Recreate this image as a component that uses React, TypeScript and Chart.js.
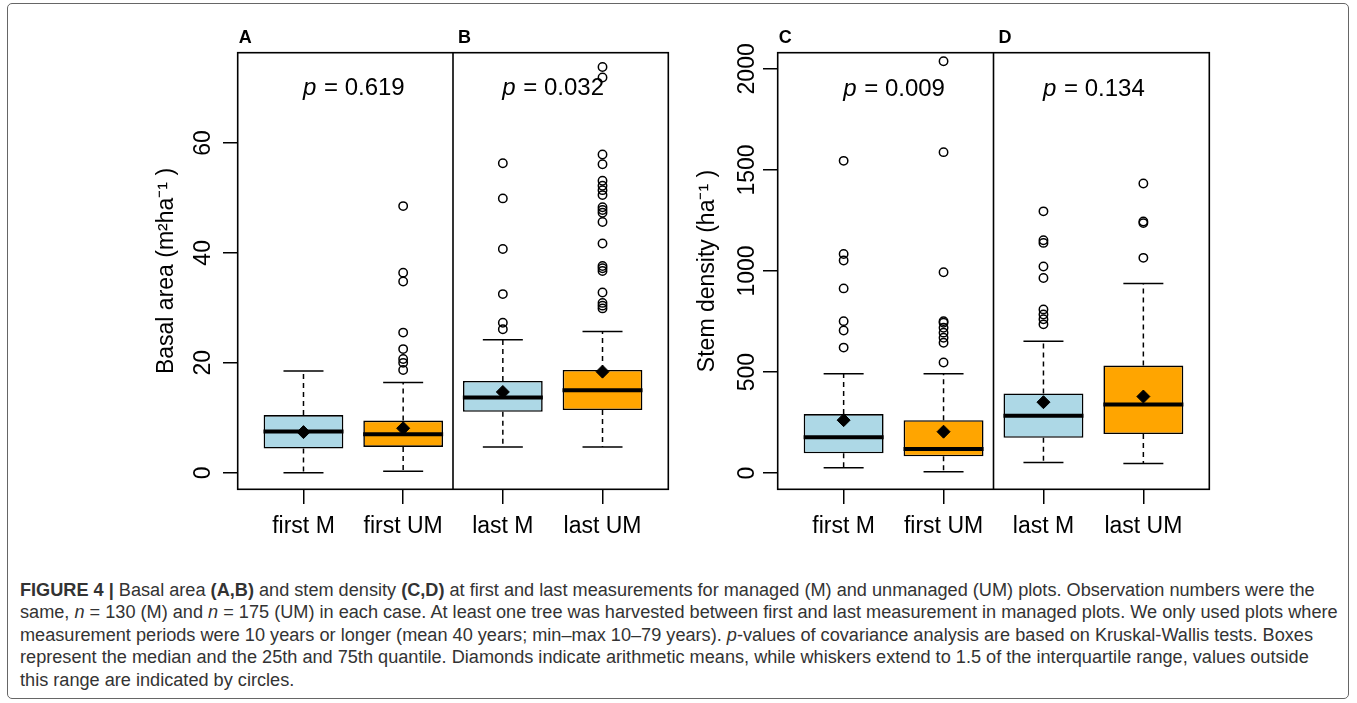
import React, { useEffect, useRef } from "react";
import { Chart, registerables } from "chart.js";

Chart.register(...registerables);

// ---------- data ----------
const categories = ["first M", "first UM", "last M", "last UM"];
const positions = [1, 2, 3, 4];

// Basal area (m² ha⁻¹), panels A/B
const baLowerWhisker = [0, 0.3, 4.7, 4.7];
const baQ1 = [4.4, 4.7, 11.1, 11.4];
const baMedian = [7.5, 7.0, 13.7, 15.0];
const baQ3 = [10.5, 9.5, 16.7, 18.7];
const baUpperWhisker = [18.5, 16.4, 24.2, 25.7];
const baMean = [7.4, 8.1, 14.7, 18.4];
const baOutliersFirstM: number[] = [];
const baOutliersFirstUM = [48.5, 36.4, 34.8, 25.5, 22.5, 20.7, 20.0, 18.7];
const baOutliersLastM = [56.3, 49.9, 40.7, 32.5, 27.3, 26.1];
const baOutliersLastUM = [73.8, 71.9, 57.9, 56.1, 53.1, 52.2, 51.4, 50.5, 48.3, 47.8, 47.3, 45.6, 41.7, 37.6, 37.2, 36.7, 32.8, 30.9, 30.4, 29.9];
const baTicks = [0, 20, 40, 60];
const baPValues = ["0.619", "0.032"];

// Stem density (ha⁻¹), panels C/D
const sdLowerWhisker = [27, 7, 53, 48];
const sdQ1 = [98, 83, 175, 193];
const sdMedian = [177, 119, 284, 339];
const sdQ3 = [292, 262, 394, 532];
const sdUpperWhisker = [492, 492, 652, 938];
const sdMean = [262, 205, 351, 379];
const sdOutliersFirstM = [1545, 1084, 1052, 914, 752, 706, 621];
const sdOutliersFirstUM = [2038, 1588, 994, 752, 744, 719, 695, 670, 645, 547];
const sdOutliersLastM = [1295, 1152, 1139, 1022, 965, 810, 785, 761, 736];
const sdOutliersLastUM = [1433, 1245, 1237, 1065];
const sdTicks = [0, 500, 1000, 1500, 2000];
const sdPValues = ["0.009", "0.134"];

// ---------- styles ----------
const FONT = '"Liberation Sans", Arial, Helvetica, sans-serif';
const BOX_FILL = ["#ADD8E6", "#FFA500", "#ADD8E6", "#FFA500"];

type Panel = {
  low: number[]; q1: number[]; med: number[]; q3: number[]; high: number[]; mean: number[];
  outliers: number[][]; ticks: number[]; yMin: number; yMax: number;
  pValues: string[]; pY: number; letters: string[]; title: string;
  yAxisWidth: number; titlePad: number; tickPad: number; padRight: number;
};

const panelBA: Panel = {
  low: baLowerWhisker, q1: baQ1, med: baMedian, q3: baQ3, high: baUpperWhisker, mean: baMean,
  outliers: [baOutliersFirstM, baOutliersFirstUM, baOutliersLastM, baOutliersLastUM],
  ticks: baTicks, yMin: -3.0, yMax: 76.4, pValues: baPValues, pY: 70,
  letters: ["A", "B"], title: "Basal area (m\u00B2ha\u207B\u00B9 )",
  yAxisWidth: 237.7, titlePad: 152.9, tickPad: 6.9, padRight: 21.7,
};

const panelSD: Panel = {
  low: sdLowerWhisker, q1: sdQ1, med: sdMedian, q3: sdQ3, high: sdUpperWhisker, mean: sdMean,
  outliers: [sdOutliersFirstM, sdOutliersFirstUM, sdOutliersLastM, sdOutliersLastUM],
  ticks: sdTicks, yMin: -80, yMax: 2080, pValues: sdPValues, pY: 1900,
  letters: ["C", "D"], title: "Stem density (ha\u207B\u00B9 )",
  yAxisWidth: 87.7, titlePad: 4.2, tickPad: -9.8, padRight: 147.7,
};

function buildConfig(p: Panel): any {
  const pts = (vals: number[]) => positions.map((x, i) => ({ x, y: vals[i] }));
  const whisker = (from: number[], to: number[]) => {
    const d: any[] = [];
    positions.forEach((x, i) => {
      d.push({ x, y: from[i] }, { x, y: to[i] }, { x, y: null });
    });
    return d;
  };
  const outlierPts: any[] = [];
  p.outliers.forEach((arr, i) => arr.forEach((v) => outlierPts.push({ x: positions[i], y: v })));

  const annot = {
    id: "annot",
    afterDatasetsDraw(chart: any) {
      const { ctx, chartArea: a } = chart;
      const xs = chart.scales.x;
      const ys = chart.scales.y;
      ctx.save();
      ctx.strokeStyle = "#000";
      ctx.lineWidth = 1.6;
      ctx.strokeRect(a.left, a.top, a.right - a.left, a.bottom - a.top);
      const xd = xs.getPixelForValue(2.5);
      ctx.beginPath();
      ctx.moveTo(xd, a.top);
      ctx.lineTo(xd, a.bottom);
      ctx.stroke();

      const italic = `italic 24px ${FONT}`;
      const normal = `24px ${FONT}`;
      ctx.fillStyle = "#000";
      ctx.textBaseline = "middle";
      ctx.textAlign = "left";
      [1.5, 3.5].forEach((xv, i) => {
        const rest = ` = ${p.pValues[i]}`;
        ctx.font = italic;
        const w1 = ctx.measureText("p").width;
        ctx.font = normal;
        const w2 = ctx.measureText(rest).width;
        const cx = xs.getPixelForValue(xv);
        const cy = ys.getPixelForValue(p.pY);
        const x0 = cx - (w1 + w2) / 2;
        ctx.font = italic;
        ctx.fillText("p", x0, cy);
        ctx.font = normal;
        ctx.fillText(rest, x0 + w1 + 1, cy);
      });

      ctx.font = `bold 18px ${FONT}`;
      ctx.textBaseline = "alphabetic";
      ctx.fillText(p.letters[0], a.left + 1, a.top - 10);
      ctx.fillText(p.letters[1], xd + 5, a.top - 10);
      ctx.restore();
    },
  };

  return {
    type: "scatter",
    data: {
      datasets: [
        {
          type: "scatter", label: "outliers", data: outlierPts,
          pointStyle: "circle", pointRadius: 4.2, pointBorderWidth: 1.5,
          pointBorderColor: "#000", pointBackgroundColor: "rgba(0,0,0,0)", order: 0,
        },
        {
          type: "scatter", label: "mean", data: pts(p.mean),
          pointStyle: "rectRot", pointRadius: 6.5, pointBorderWidth: 1,
          pointBorderColor: "#000", pointBackgroundColor: "#000", order: 1,
        },
        {
          type: "scatter", label: "median", data: pts(p.med),
          pointStyle: "line", pointRadius: 40, pointBorderWidth: 4,
          pointBorderColor: "#000", order: 2,
        },
        {
          type: "scatter", label: "caps", data: [...pts(p.low), ...pts(p.high)],
          pointStyle: "line", pointRadius: 20, pointBorderWidth: 1.5,
          pointBorderColor: "#000", order: 2,
        },
        {
          type: "bar", label: "box",
          data: positions.map((x, i) => ({ x, y: [p.q1[i], p.q3[i]] })),
          backgroundColor: BOX_FILL, borderColor: "#000", borderWidth: 1.6,
          borderSkipped: false, categoryPercentage: 1, barPercentage: 0.8, order: 3,
        },
        {
          type: "line", label: "whiskers",
          data: [...whisker(p.q3, p.high), ...whisker(p.q1, p.low)],
          borderColor: "#000", borderWidth: 1.5, borderDash: [5, 4],
          pointRadius: 0, spanGaps: false, fill: false, order: 4,
        },
      ],
    },
    options: {
      responsive: false,
      animation: false,
      events: [],
      layout: { autoPadding: false, padding: { left: 0, top: 52.7, right: p.padRight, bottom: 0 } },
      plugins: { legend: { display: false }, tooltip: { enabled: false }, title: { display: false } },
      scales: {
        x: {
          type: "linear", min: 0.34, max: 4.66, offset: false,
          afterBuildTicks: (s: any) => { s.ticks = positions.map((v) => ({ value: v })); },
          afterFit: (s: any) => { s.height = 70.7; s.paddingLeft = 0; s.paddingRight = 0; },
          ticks: {
            callback: (v: any) => categories[positions.indexOf(v)] ?? "",
            font: { family: FONT, size: 23 }, color: "#000", padding: 9,
            maxRotation: 0, minRotation: 0, autoSkip: false,
          },
          grid: { drawOnChartArea: false, drawTicks: true, tickLength: 14.7, color: "#000", lineWidth: 1.5, offset: false },
          border: { display: false },
        },
        y: {
          type: "linear", min: p.yMin, max: p.yMax,
          afterBuildTicks: (s: any) => { s.ticks = p.ticks.map((v) => ({ value: v })); },
          afterFit: (s: any) => { s.width = p.yAxisWidth; s.paddingTop = 0; s.paddingBottom = 0; },
          ticks: {
            minRotation: 90, maxRotation: 90, crossAlign: "center",
            padding: p.tickPad, font: { family: FONT, size: 23 }, color: "#000",
            autoSkip: false, callback: (v: any) => String(v),
          },
          grid: { drawOnChartArea: false, drawTicks: true, tickLength: 14.7, color: "#000", lineWidth: 1.5 },
          border: { display: false },
          title: {
            display: true, text: p.title, color: "#000",
            font: { family: FONT, size: 23 }, padding: { top: p.titlePad, bottom: 0 },
          },
        },
      },
    },
    plugins: [annot],
  };
}

const captionLines: React.ReactNode[] = [
  <>
    <b>FIGURE 4 |</b> Basal area <b>(A,B)</b> and stem density <b>(C,D)</b> at first and last measurements for managed (M) and unmanaged (UM) plots. Observation numbers were the
  </>,
  <>
    same, <i>n</i> = 130 (M) and <i>n</i> = 175 (UM) in each case. At least one tree was harvested between first and last measurement in managed plots. We only used plots where
  </>,
  <>
    measurement periods were 10 years or longer (mean 40 years; min–max 10–79 years). <i>p</i>-values of covariance analysis are based on Kruskal-Wallis tests. Boxes
  </>,
  <>
    represent the median and the 25th and 75th quantile. Diamonds indicate arithmetic means, while whiskers extend to 1.5 of the interquartile range, values outside
  </>,
  <>this range are indicated by circles.</>,
];

export default function App() {
  const ref1 = useRef<HTMLCanvasElement>(null);
  const ref2 = useRef<HTMLCanvasElement>(null);

  useEffect(() => {
    const c1 = new Chart(ref1.current as HTMLCanvasElement, buildConfig(panelBA));
    const c2 = new Chart(ref2.current as HTMLCanvasElement, buildConfig(panelSD));
    return () => {
      c1.destroy();
      c2.destroy();
    };
  }, []);

  return (
    <div style={{ position: "absolute", left: 0, top: 0, width: 1357, height: 703, background: "#fff", overflow: "hidden" }}>
      <div
        style={{
          position: "absolute", left: 7, top: 3, width: 1342, height: 696,
          border: "1px solid #666", borderRadius: 5, boxSizing: "border-box",
        }}
      />
      <canvas ref={ref1} width={690} height={560} style={{ position: "absolute", left: 0, top: 0, width: 690, height: 560 }} />
      <canvas ref={ref2} width={667} height={560} style={{ position: "absolute", left: 690, top: 0, width: 667, height: 560 }} />
      <div
        style={{
          position: "absolute", left: 20, top: 578.5, fontFamily: FONT, fontSize: 18.15,
          lineHeight: "22.5px", color: "#333", whiteSpace: "nowrap",
        }}
      >
        {captionLines.map((l, i) => (
          <div key={i}>{l}</div>
        ))}
      </div>
    </div>
  );
}
